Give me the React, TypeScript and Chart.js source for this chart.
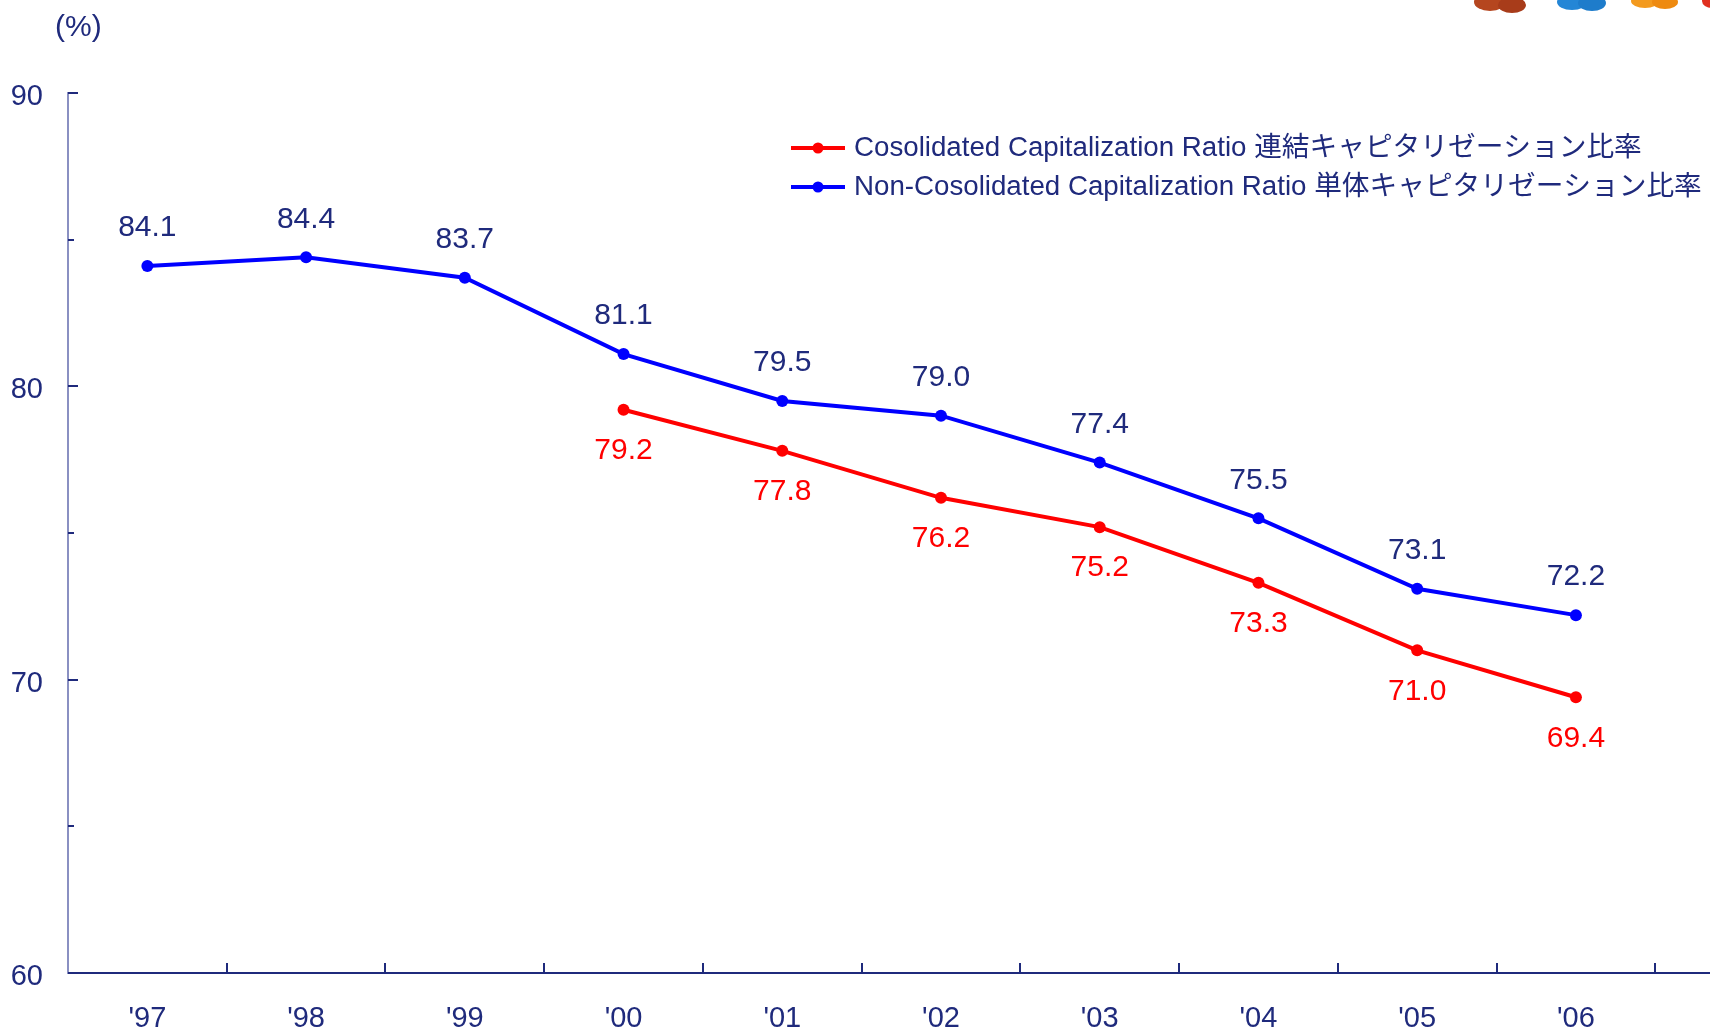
import React, { useEffect, useRef } from "react";
import { Chart, registerables } from "chart.js";

Chart.register(...registerables);

const categories = ["'97", "'98", "'99", "'00", "'01", "'02", "'03", "'04", "'05", "'06", ""];
const nonConsolidated = [84.1, 84.4, 83.7, 81.1, 79.5, 79.0, 77.4, 75.5, 73.1, 72.2, null];
const consolidated = [null, null, null, 79.2, 77.8, 76.2, 75.2, 73.3, 71.0, 69.4, null];
const legendLabels = [
  "Cosolidated Capitalization Ratio 連結キャピタリゼーション比率",
  "Non-Cosolidated Capitalization Ratio 単体キャピタリゼーション比率",
];
const yMajorTicks = [60, 70, 80, 90];
const yMinorTicks = [65, 75, 85];

const NAVY = "#1F2A7C";
const RED = "#FF0000";
const BLUE = "#0000FF";
const FONT = "'Liberation Sans', Arial, 'Noto Sans CJK JP', sans-serif";

const overlayPlugin = {
  id: "overlay",
  afterDraw(chart: any) {
    const ctx = chart.ctx;
    const xs = chart.scales.x;
    const ys = chart.scales.y;
    const area = chart.chartArea;
    ctx.save();
    // decorative blobs (top-right logo remnants)
    const blobs = [
      { x: 1490, y: 2, rx: 16, ry: 9, c: "#B5461F" },
      { x: 1512, y: 5, rx: 14, ry: 8, c: "#A83C1A" },
      { x: 1572, y: 2, rx: 15, ry: 8, c: "#2486D6" },
      { x: 1592, y: 3, rx: 14, ry: 8, c: "#1E7CCB" },
      { x: 1645, y: 1, rx: 14, ry: 7, c: "#F39A1E" },
      { x: 1665, y: 2, rx: 13, ry: 7, c: "#EE8A10" },
      { x: 1712, y: 1, rx: 10, ry: 7, c: "#E03020" },
    ];
    blobs.forEach((b) => {
      ctx.fillStyle = b.c;
      ctx.beginPath();
      ctx.ellipse(b.x, b.y, b.rx, b.ry, 0, 0, Math.PI * 2);
      ctx.fill();
    });

    // y ticks (inside)
    ctx.strokeStyle = NAVY;
    ctx.lineWidth = 2;
    yMajorTicks.forEach((v) => {
      const y = Math.round(ys.getPixelForValue(v));
      ctx.beginPath();
      ctx.moveTo(area.left, y);
      ctx.lineTo(area.left + 10, y);
      ctx.stroke();
    });
    yMinorTicks.forEach((v) => {
      const y = Math.round(ys.getPixelForValue(v));
      ctx.beginPath();
      ctx.moveTo(area.left, y);
      ctx.lineTo(area.left + 6, y);
      ctx.stroke();
    });
    // x ticks (inside, at category boundaries)
    for (let i = 1; i < categories.length; i++) {
      const x = Math.round((xs.getPixelForValue(i - 1) + xs.getPixelForValue(i)) / 2);
      ctx.beginPath();
      ctx.moveTo(x, area.bottom);
      ctx.lineTo(x, area.bottom - 10);
      ctx.stroke();
    }

    // data labels
    ctx.font = `30px ${FONT}`;
    ctx.textAlign = "center";
    ctx.textBaseline = "middle";
    const metaB = chart.getDatasetMeta(1);
    metaB.data.forEach((pt: any, i: number) => {
      const v = nonConsolidated[i];
      if (v == null) return;
      ctx.fillStyle = NAVY;
      ctx.fillText(v.toFixed(1), pt.x, pt.y - 38);
    });
    const metaR = chart.getDatasetMeta(0);
    metaR.data.forEach((pt: any, i: number) => {
      const v = consolidated[i];
      if (v == null) return;
      ctx.fillStyle = RED;
      ctx.fillText(v.toFixed(1), pt.x, pt.y + 41);
    });

    // unit label
    ctx.fillStyle = NAVY;
    ctx.font = `30px ${FONT}`;
    ctx.textAlign = "left";
    ctx.fillText("(%)", 55, 28);

    // legend
    const legendItems = [
      { color: RED, y: 148, text: legendLabels[0] },
      { color: BLUE, y: 187, text: legendLabels[1] },
    ];
    legendItems.forEach((it) => {
      ctx.strokeStyle = it.color;
      ctx.lineWidth = 4;
      ctx.beginPath();
      ctx.moveTo(791, it.y);
      ctx.lineTo(845, it.y);
      ctx.stroke();
      ctx.fillStyle = it.color;
      ctx.beginPath();
      ctx.arc(818, it.y, 5.5, 0, Math.PI * 2);
      ctx.fill();
      ctx.fillStyle = NAVY;
      ctx.font = `27.7px ${FONT}`;
      ctx.textAlign = "left";
      ctx.textBaseline = "middle";
      ctx.fillText(it.text, 854, it.y);
    });
    ctx.restore();
  },
};

export default function App() {
  const canvasRef = useRef<HTMLCanvasElement | null>(null);

  useEffect(() => {
    if (!canvasRef.current) return;
    const chart = new Chart(canvasRef.current, {
      type: "line",
      data: {
        labels: categories,
        datasets: [
          {
            label: legendLabels[0],
            data: consolidated,
            borderColor: RED,
            backgroundColor: RED,
            borderWidth: 4,
            pointRadius: 6,
            pointBorderWidth: 0,
            pointBackgroundColor: RED,
            spanGaps: false,
          },
          {
            label: legendLabels[1],
            data: nonConsolidated,
            borderColor: BLUE,
            backgroundColor: BLUE,
            borderWidth: 4,
            pointRadius: 6,
            pointBorderWidth: 0,
            pointBackgroundColor: BLUE,
            spanGaps: false,
          },
        ],
      },
      options: {
        animation: false,
        responsive: true,
        maintainAspectRatio: false,
        layout: { padding: { top: 93, left: 0, right: 0, bottom: 0 } },
        plugins: {
          legend: { display: false },
          tooltip: { enabled: false },
        },
        scales: {
          x: {
            offset: true,
            grid: { display: false, drawTicks: false, offset: true },
            border: { display: true, color: NAVY, width: 2 },
            ticks: {
              color: NAVY,
              font: { family: FONT, size: 29 },
              padding: 29,
              maxRotation: 0,
              autoSkip: false,
            },
            afterFit(scale: any) {
              scale.height = 58;
            },
          },
          y: {
            min: 60,
            max: 90,
            grid: { display: false, drawTicks: false },
            border: { display: true, color: "#8A90C2", width: 2 },
            ticks: {
              stepSize: 10,
              color: NAVY,
              font: { family: FONT, size: 29 },
              padding: 25,
              labelOffset: 4,
            },
            afterFit(scale: any) {
              scale.width = 68;
            },
          },
        },
      },
      plugins: [overlayPlugin],
    });
    return () => chart.destroy();
  }, []);

  return (
    <div
      style={{
        position: "fixed",
        left: 0,
        top: 0,
        width: 1710,
        height: 1031,
        overflow: "hidden",
        background: "#fff",
      }}
    >
      <div style={{ position: "absolute", left: 0, top: 0, width: 1820, height: 1031 }}>
        <canvas ref={canvasRef} />
      </div>
    </div>
  );
}
